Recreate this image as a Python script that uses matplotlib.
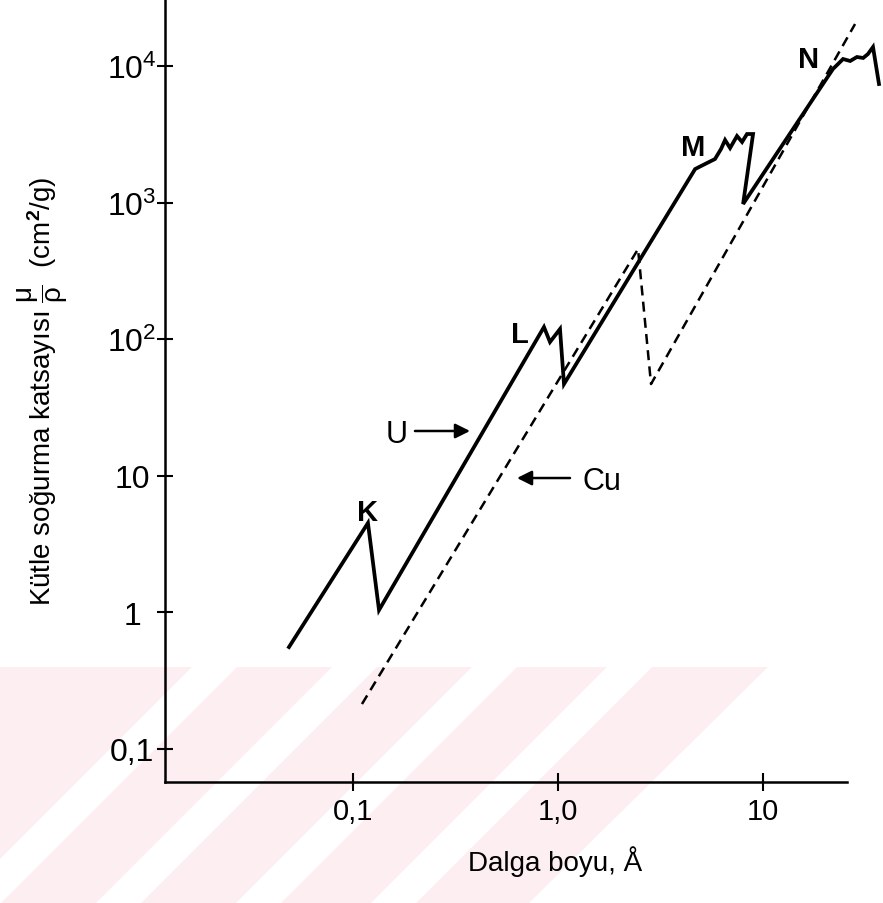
import numpy as np
import matplotlib
matplotlib.use("Agg")
import matplotlib.pyplot as plt  # noqa: E402
from matplotlib.patches import Polygon  # noqa: E402

plt.rcParams["font.family"] = ["Liberation Sans", "DejaVu Sans"]
plt.rcParams["mathtext.fontset"] = "custom"
plt.rcParams["mathtext.rm"] = "Liberation Sans"
plt.rcParams["mathtext.it"] = "Liberation Sans:italic"
plt.rcParams["mathtext.bf"] = "Liberation Sans:bold"

# ------ uranium (U), solid curve: wavelength [A], mass absorption [cm2/g] ------
U_WAVE = [0.0489, 0.1187, 0.1344, 0.857, 0.917, 1.026, 1.073,
          4.68, 5.23, 5.85, 6.26, 6.55, 6.93, 7.49, 7.93, 8.38, 8.97, 8.02,
          22.0, 23.3, 24.65, 26.7, 28.8, 30.9, 32.6, 34.5, 36.9]
U_MU = [0.554, 4.49, 1.034, 122.4, 95.1, 118.4, 46.8,
        1759, 1914, 2083, 2465, 2870, 2507, 3070, 2775, 3175, 3175, 975,
        9506, 10345, 11250, 10880, 11640, 11450, 12240, 13770, 7380]

# ------ copper (Cu), dashed curve ------
CU_WAVE = [0.111, 2.465, 2.852, 28.2]
CU_MU = [0.212, 456, 46.8, 20300]

# ------ absorption edge labels ------
EDGE_NAMES = ["K", "L", "M", "N"]
EDGE_X = [0.1187, 0.655, 4.57, 16.8]
EDGE_Y = [5.40, 108.8, 2552, 11250]

X_TICKS = [0.1, 1.0, 10]
X_TICK_LABELS = ["0,1", "1,0", "10"]
Y_TICKS = [0.1, 1, 10, 100, 1000, 10000]
Y_TICK_LABELS = ["0,1", "1", "10", r"$10^2$", r"$10^3$", r"$10^4$"]

XLIM = (0.01215, 38.6)
X_AXIS_END = 25.8
YLIM = (0.0569, 30960)

W, H = 883, 904
fig = plt.figure(figsize=(W / 100, H / 100), dpi=100)


def fig_poly(pts, color, z):
    # pts in pixel coords measured from the top-left corner
    xy = [(x / W, 1 - y / H) for x, y in pts]
    fig.patches.append(Polygon(xy, closed=True, transform=fig.transFigure,
                               facecolor=color, edgecolor="none", zorder=z))


# faint pink watermark in the lower part of the page
fig_poly([(0, 668), (768, 668), (529, 904), (0, 904)], "#fdeef1", -2)
for c1, c2 in [(860, 905), (1000, 1045), (1140, 1185), (1275, 1320)]:
    fig_poly([(c1 - 668, 668), (c2 - 668, 668), (c2 - 904, 904), (c1 - 904, 904)],
             "white", -1)

ax = fig.add_axes([165 / W, 1 - 783 / H, 718 / W, 783 / H])
ax.patch.set_alpha(0)
ax.set_xscale("log")
ax.set_yscale("log")
ax.set_xlim(*XLIM)
ax.set_ylim(*YLIM)

ax.plot(U_WAVE, U_MU, color="k", lw=2.7, solid_joinstyle="miter")
ax.plot(CU_WAVE, CU_MU, color="k", lw=1.8, dashes=(4, 2.5))

for name, x, y in zip(EDGE_NAMES, EDGE_X, EDGE_Y):
    ax.text(x, y, name, fontsize=21, fontweight="bold", ha="center", va="center")

# element labels with arrows
ax.text(0.1644, 20.1, "U", fontsize=22, ha="center", va="center")
ax.annotate("", xy=(0.3735, 21.2), xytext=(0.2013, 21.2),
            arrowprops=dict(arrowstyle="-|>", lw=1.8, color="k",
                            mutation_scale=22, shrinkA=0, shrinkB=0))
ax.text(1.645, 9.12, "Cu", fontsize=22, ha="center", va="center")
ax.annotate("", xy=(0.633, 9.59), xytext=(1.148, 9.59),
            arrowprops=dict(arrowstyle="-|>", lw=1.8, color="k",
                            mutation_scale=22, shrinkA=0, shrinkB=0))

# axes styling
for side in ("top", "right"):
    ax.spines[side].set_visible(False)
for side in ("left", "bottom"):
    ax.spines[side].set_linewidth(1.8)
ax.spines["bottom"].set_bounds(XLIM[0], X_AXIS_END)

ax.xaxis.set_minor_locator(matplotlib.ticker.NullLocator())
ax.yaxis.set_minor_locator(matplotlib.ticker.NullLocator())
ax.set_xticks(X_TICKS)
ax.set_xticklabels(X_TICK_LABELS)
ax.set_yticks(Y_TICKS)
ax.set_yticklabels(Y_TICK_LABELS)
ax.tick_params(axis="x", direction="inout", length=13, width=1.5,
               labelsize=21, pad=4)
ax.tick_params(axis="y", direction="inout", length=11.5, width=1.5,
               labelsize=23, pad=18)
plt.setp(ax.get_yticklabels(), ha="center")

ax.set_xlabel("Dalga boyu, Å", fontsize=20, va="center")
ax.xaxis.set_label_coords(0.543, -0.101)
ax.set_ylabel(r"Kütle soğurma katsayısı $\dfrac{\mathrm{μ}}{\mathrm{ρ}}$  (cm$^\mathbf{2}$/g)",
              fontsize=20, va="center")
ax.yaxis.set_label_coords(-0.171, 0.5)

fig.savefig("out.png", dpi=100)
